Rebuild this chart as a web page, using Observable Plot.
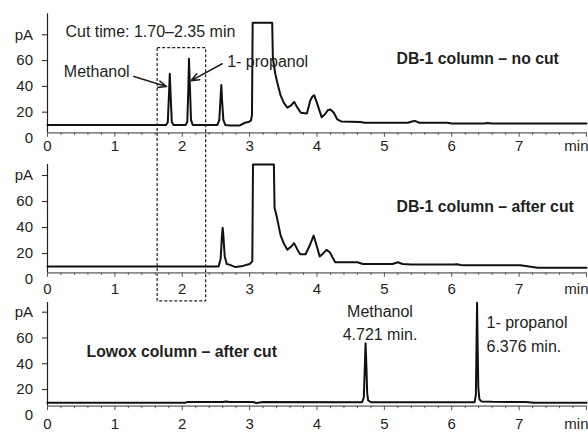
<!DOCTYPE html>
<html><head><meta charset="utf-8">
<script src="https://cdn.jsdelivr.net/npm/d3@7"></script>
<script src="https://cdn.jsdelivr.net/npm/@observablehq/plot@0.6"></script>
<style>
body{margin:0;background:#fff;}
#chart{position:relative;width:588px;height:437px;overflow:hidden;}
#chart svg{position:absolute;left:0;}
</style></head><body><div id="chart"></div>
<script>
// ---- data (time in min, signal in pA) ----
const noCutTime = [0,1.76,1.785,1.80,1.815,1.83,1.845,1.87,2.05,2.075,2.09,2.10,2.115,2.13,2.155,2.52,2.55,2.57,2.58,2.59,2.61,2.64,2.72,2.85,2.93,2.98,3.02,3.035,3.045,3.335,3.345,3.38,3.41,3.46,3.51,3.56,3.61,3.66,3.71,3.76,3.85,3.9,3.93,3.96,4.0,4.07,4.12,4.16,4.2,4.25,4.3,4.36,4.65,4.7,5.35,5.41,5.45,5.52,5.93,6.0,6.48,6.53,6.6,8.0];
const noCutSignal = [10,10,12,30,49.8,30,12.5,10,10,12.5,38,61.4,38,14,10,10,14,32,41,30,14,10,9.6,9.6,11.8,12.3,13.5,18,89.3,89.3,62,50,43,33,27,23.5,25,28,23.5,19.5,19,29,32,33,27,16,18.5,21.5,22,19.5,14.5,12.8,12.3,11.8,11.8,12.8,13.2,11.8,11.8,11.3,11.3,11.6,11.3,11.3];

const afterCutTime = [0,2.54,2.57,2.59,2.60,2.61,2.63,2.66,2.7,2.79,2.9,3.0,3.04,3.05,3.36,3.37,3.4,3.46,3.51,3.56,3.61,3.66,3.71,3.75,3.83,3.89,3.95,3.99,4.04,4.09,4.14,4.19,4.27,4.6,4.68,5.12,5.2,5.27,5.4,6.03,6.08,6.13,6.2,7.02,7.27,8.0];
const afterCutSignal = [10,10,16,34,39.8,34,18,12,11.5,9.6,10.5,12,14,88.5,88.5,55,49,34,27.5,23,25,28,23,19.5,19.5,26,33.8,27,17.7,20,22.8,21,13.3,13.3,12,12,13.3,12,11.5,11.5,11.8,11.2,11,11,9,9];

const lowoxTime = [0,2.05,2.07,2.6,2.65,2.7,3.05,3.1,3.2,4.67,4.695,4.71,4.721,4.732,4.745,4.76,4.8,6.34,6.358,6.368,6.376,6.384,6.394,6.41,6.44,6.6,7.1,7.22,8.0];
const lowoxSignal = [9.8,9.8,10.3,10.3,10.8,10.3,10.3,9.6,10.3,10.2,14,38,56,40,17,11.5,10.2,10.2,16,55,87.3,55,22,12.5,10.8,10.5,10.4,9.7,9.7];

const xTicks = [0,1,2,3,4,5,6,7,8];
const xMinorTicks = d3.range(0, 8.001, 0.2).filter(d => Math.abs(d - Math.round(d)) > 1e-6);
const yTicks = [20,40,60,80];
const cutBoxTime = [1.635, 2.355];

const FONT = '"Liberation Sans", Arial, sans-serif';
const INK = "#231f20";

function rows(t, v) { return t.map((d, i) => ({t: d, v: v[i]})); }

function panel({top, height, mt, mb, yDomain, t, v, pad, extra}) {
  const svg = Plot.plot({
    width: 588, height,
    marginLeft: 47, marginRight: 2, marginTop: mt, marginBottom: mb,
    style: {background: "transparent", overflow: "visible", fontFamily: FONT, fontSize: "15px", color: INK},
    x: {domain: [0, 8], label: null},
    y: {domain: yDomain, label: null},
    marks: [
      Plot.ruleY([yDomain[0]], {stroke: "#8a8a8a", strokeWidth: 1.7}),
      Plot.ruleX([0], {stroke: INK, strokeWidth: 1.2}),
      Plot.axisX({ticks: xMinorTicks, tickSize: 2.5, text: null, stroke: "#555", label: null}),
      Plot.axisX({ticks: xTicks, tickSize: 4.5, tickPadding: pad, stroke: "#555", label: null,
        tickFormat: d => d === 8 ? "" : String(d)}),
      Plot.text(["min"], {x: () => 8, y: () => yDomain[0], text: d => d, textAnchor: "end", lineAnchor: "top", dy: 4.5 + pad, dx: 2}),
      Plot.axisY({ticks: yTicks, tickSize: 5, tickPadding: 9.5, label: null,
        tickFormat: d => d === 80 ? "pA" : String(d)}),
      Plot.axisY({ticks: [0], tickSize: 0, tickPadding: 14.5, label: null}),
      Plot.line(rows(t, v), {x: "t", y: "v", stroke: "#111", strokeWidth: 2, strokeLinejoin: "round"}),
      ...extra
    ]
  });
  svg.style.top = top + "px";
  document.getElementById("chart").appendChild(svg);
}

// Panel 1: DB-1 column – no cut
panel({top: 0, height: 152, mt: 13.3, mb: 19.7, yDomain: [4.0, 96.3], t: noCutTime, v: noCutSignal, pad: 3.5, extra: [
  Plot.rect([cutBoxTime], {x1: d => d[0], x2: d => d[1], y1: () => -126.7, y2: () => 69.6,
    fill: "none", stroke: INK, strokeWidth: 1.2, strokeDasharray: "3,2"}),
  Plot.text(["Cut time: 1.70–2.35 min"], {x: () => 0.267, y: () => 78, text: d => d, textAnchor: "start", lineAnchor: "bottom", fontSize: 16, fill: INK}),
  Plot.text(["Methanol"], {x: () => 0.242, y: () => 47.6, text: d => d, textAnchor: "start", lineAnchor: "bottom", fontSize: 16, fill: INK}),
  Plot.text(["1- propanol"], {x: () => 2.667, y: () => 55, text: d => d, textAnchor: "start", lineAnchor: "bottom", fontSize: 16, fill: INK}),
  Plot.text(["DB-1 column – no cut"], {x: () => 5.18, y: () => 57, text: d => d, textAnchor: "start", lineAnchor: "bottom", fontSize: 15.8, fontWeight: "bold", fill: INK}),
  Plot.arrow([0], {x1: () => 1.281, y1: () => 47.6, x2: () => 1.766, y2: () => 39.9, stroke: INK, strokeWidth: 1.6, headLength: 8, headAngle: 45}),
  Plot.arrow([0], {x1: () => 2.593, y1: () => 57.5, x2: () => 2.133, y2: () => 44.5, stroke: INK, strokeWidth: 1.6, headLength: 8, headAngle: 45})
]});

// Panel 2: DB-1 column – after cut
panel({top: 152, height: 140, mt: 12, mb: 19.7, yDomain: [5.2, 88.5], t: afterCutTime, v: afterCutSignal, pad: 6, extra: [
  Plot.text(["DB-1 column – after cut"], {x: () => 5.18, y: () => 51.9, text: d => d, textAnchor: "start", lineAnchor: "bottom", fontSize: 15.8, fontWeight: "bold", fill: INK})
]});

// Panel 3: Lowox column – after cut
panel({top: 292, height: 145, mt: 10, mb: 31.3, yDomain: [7.1, 87.5], t: lowoxTime, v: lowoxSignal, pad: 7.5, extra: [
  Plot.text(["Lowox column – after cut"], {x: () => 0.579, y: () => 44.9, text: d => d, textAnchor: "start", lineAnchor: "bottom", fontSize: 15.8, fontWeight: "bold", fill: INK}),
  Plot.text(["Methanol\n4.721 min."], {x: () => 4.935, y: () => 58.6, text: d => d, textAnchor: "middle", lineAnchor: "bottom", lineHeight: 1.4, fontSize: 16, fill: INK}),
  Plot.text(["1- propanol\n6.376 min."], {x: () => 6.516, y: () => 49.5, text: d => d, textAnchor: "start", lineAnchor: "bottom", lineHeight: 1.45, fontSize: 16, fill: INK})
]});
</script></body></html>
